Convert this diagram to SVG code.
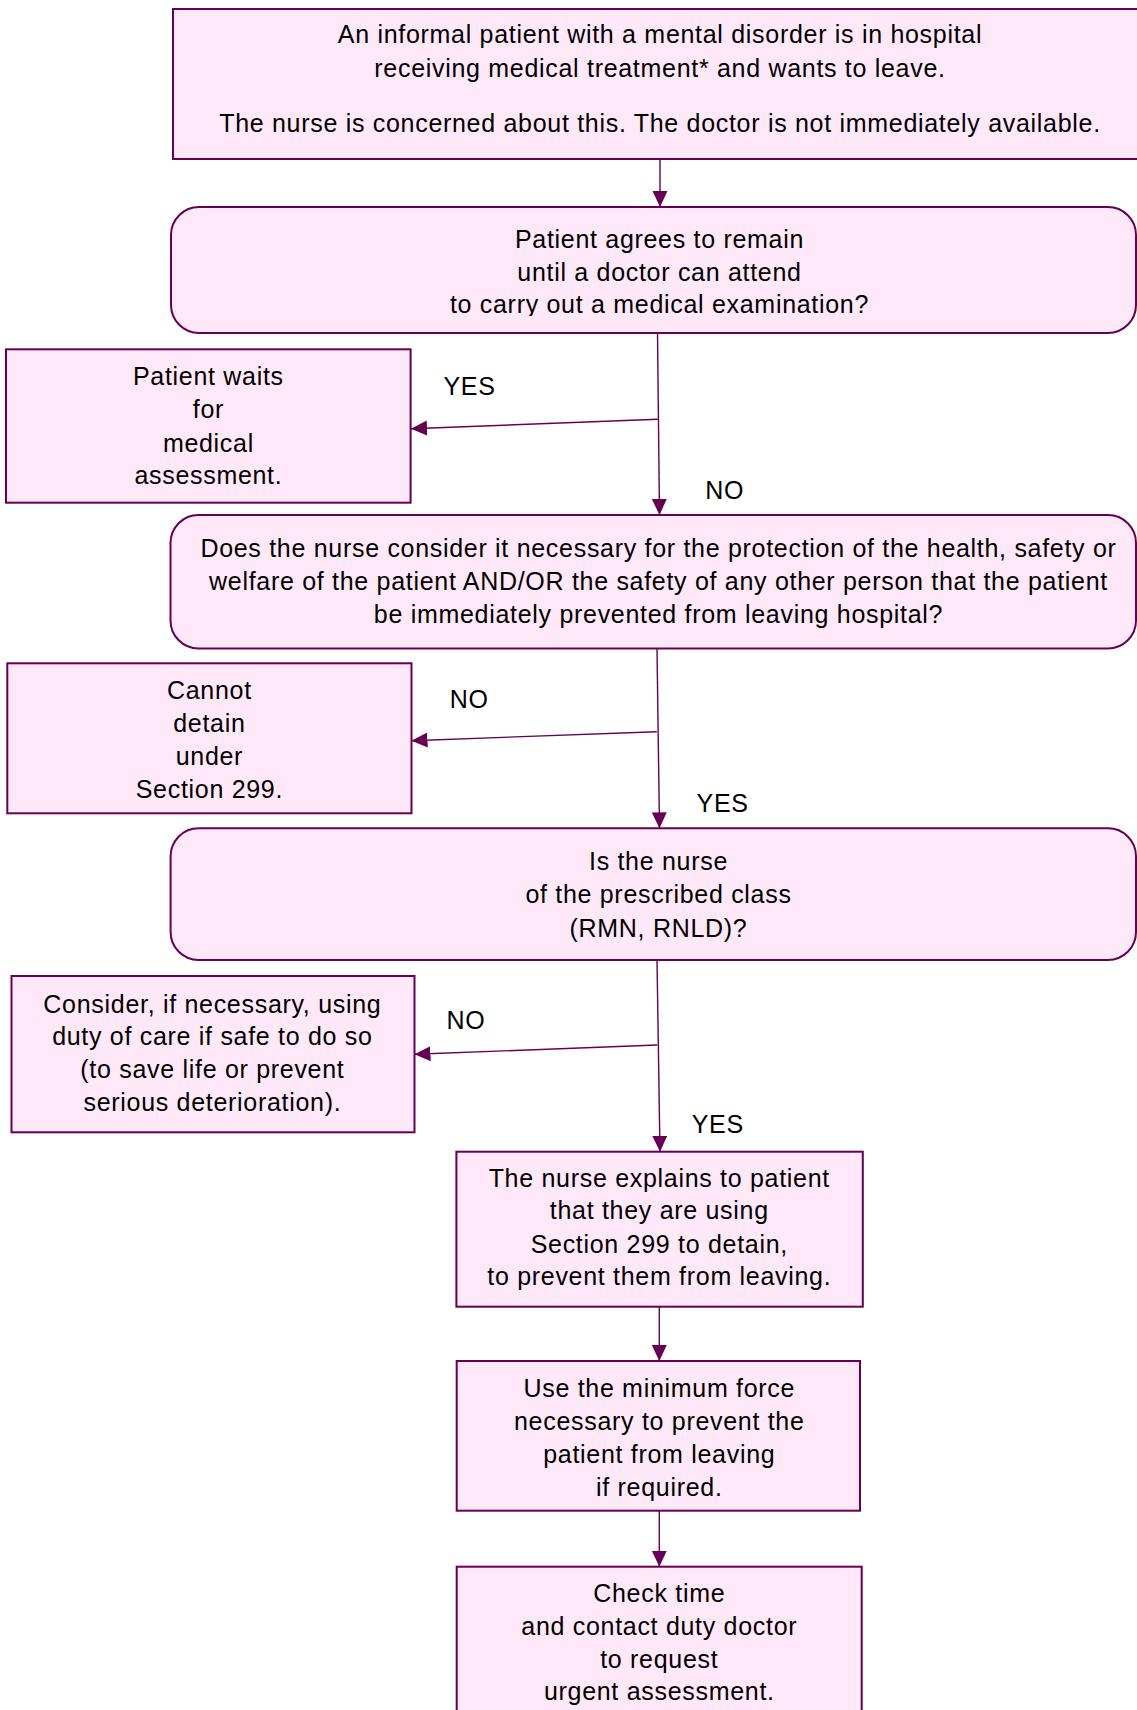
<svg xmlns="http://www.w3.org/2000/svg" width="1137" height="1710" viewBox="0 0 1137 1710">
<style>
.box{fill:#FFE8F8;stroke:#650052;stroke-width:2}
.t{font-family:"Liberation Sans",Arial,sans-serif;font-size:25px;letter-spacing:0.7px;fill:#000;text-anchor:middle}
.lbl{font-family:"Liberation Sans",Arial,sans-serif;font-size:25px;letter-spacing:0.7px;fill:#000}
.c{stroke:#650052;stroke-width:1.4;fill:none;marker-end:url(#ah)}
.cn{stroke:#650052;stroke-width:1.4;fill:none}
</style>
<defs>
<marker id="ah" markerUnits="userSpaceOnUse" markerWidth="17" markerHeight="16" refX="16" refY="7.5" orient="auto">
<path d="M0,0 L16,7.5 L0,15 z" fill="#650052"/>
</marker>
<clipPath id="clip2"><rect x="171" y="207" width="966" height="109"/></clipPath>
</defs>
<rect width="1137" height="1710" fill="#fff"/>

<g id="connectors">
<line class="c" x1="660" y1="159" x2="660" y2="207"/>
<line class="c" x1="657.5" y1="333" x2="659.5" y2="515"/>
<line class="c" x1="657.8" y1="419.3" x2="411" y2="428.7"/>
<line class="c" x1="657" y1="648.5" x2="659.5" y2="828.3"/>
<line class="c" x1="656.8" y1="731.7" x2="411.5" y2="740.7"/>
<line class="c" x1="657" y1="960" x2="660" y2="1151.7"/>
<line class="c" x1="657.3" y1="1045" x2="414.5" y2="1054.3"/>
<line class="c" x1="659.3" y1="1307" x2="659.3" y2="1361"/>
<line class="c" x1="659.3" y1="1511" x2="659.3" y2="1566.7"/>
<text class="lbl" x="443.5" y="395">YES</text>
<text class="lbl" x="705.3" y="499.3">NO</text>
<text class="lbl" x="449.8" y="708.3">NO</text>
<text class="lbl" x="696.6" y="811.7">YES</text>
<text class="lbl" x="446.6" y="1029.3">NO</text>
<text class="lbl" x="691.7" y="1132.7">YES</text>
</g>

<g id="n1">
<rect class="box" x="173" y="9" width="980" height="150"/>
<text class="t" x="660" y="43.3">An informal patient with a mental disorder is in hospital</text>
<text class="t" x="660" y="76.7">receiving medical treatment* and wants to leave.</text>
<text class="t" x="660" y="131.7">The nurse is concerned about this. The doctor is not immediately available.</text>
</g>

<g id="n2">
<rect class="box" x="171" y="207" width="965" height="126" rx="28" ry="28"/>
<text class="t" x="659.5" y="248.3">Patient agrees to remain</text>
<text class="t" x="659.5" y="281.3">until a doctor can attend</text>
<text class="t" x="659.5" y="313.3" clip-path="url(#clip2)">to carry out a medical examination?</text>
</g>

<g id="n3">
<rect class="box" x="6" y="349.3" width="404.6" height="153.4"/>
<text class="t" x="208.4" y="385">Patient waits</text>
<text class="t" x="208.4" y="418.3">for</text>
<text class="t" x="208.4" y="451.7">medical</text>
<text class="t" x="208.4" y="484.3">assessment.</text>
</g>

<g id="n4">
<rect class="box" x="170.5" y="515" width="965.5" height="133.5" rx="28" ry="28"/>
<text class="t" x="658.5" y="556.7">Does the nurse consider it necessary for the protection of the health, safety or</text>
<text class="t" x="658.5" y="590">welfare of the patient AND/OR the safety of any other person that the patient</text>
<text class="t" x="658.5" y="623.3">be immediately prevented from leaving hospital?</text>
</g>

<g id="n5">
<rect class="box" x="7.3" y="663.3" width="404.2" height="150"/>
<text class="t" x="209.4" y="699.3">Cannot</text>
<text class="t" x="209.4" y="731.7">detain</text>
<text class="t" x="209.4" y="765">under</text>
<text class="t" x="209.4" y="798.3">Section 299.</text>
</g>

<g id="n6">
<rect class="box" x="170.6" y="828.3" width="965.4" height="131.7" rx="28" ry="28"/>
<text class="t" x="658.5" y="870">Is the nurse</text>
<text class="t" x="658.5" y="903.3">of the prescribed class</text>
<text class="t" x="658.5" y="936.7">(RMN, RNLD)?</text>
</g>

<g id="n7">
<rect class="box" x="11.5" y="976" width="403" height="156.3"/>
<text class="t" x="212.4" y="1012.7">Consider, if necessary, using</text>
<text class="t" x="212.4" y="1045">duty of care if safe to do so</text>
<text class="t" x="212.4" y="1078.3">(to save life or prevent</text>
<text class="t" x="212.4" y="1110.7">serious deterioration).</text>
</g>

<g id="n8">
<rect class="box" x="456.4" y="1151.7" width="406.4" height="155"/>
<text class="t" x="659.3" y="1186.7">The nurse explains to patient</text>
<text class="t" x="659.3" y="1219.3">that they are using</text>
<text class="t" x="659.3" y="1252.7">Section 299 to detain,</text>
<text class="t" x="659.3" y="1285">to prevent them from leaving.</text>
</g>

<g id="n9">
<rect class="box" x="456.7" y="1361" width="403.3" height="149.7"/>
<text class="t" x="659.3" y="1396.7">Use the minimum force</text>
<text class="t" x="659.3" y="1430">necessary to prevent the</text>
<text class="t" x="659.3" y="1463.3">patient from leaving</text>
<text class="t" x="659.3" y="1496">if required.</text>
</g>

<g id="n10">
<rect class="box" x="456.7" y="1566.7" width="405" height="160"/>
<text class="t" x="659.3" y="1601.7">Check time</text>
<text class="t" x="659.3" y="1635">and contact duty doctor</text>
<text class="t" x="659.3" y="1668.3">to request</text>
<text class="t" x="659.3" y="1700">urgent assessment.</text>
</g>
</svg>
